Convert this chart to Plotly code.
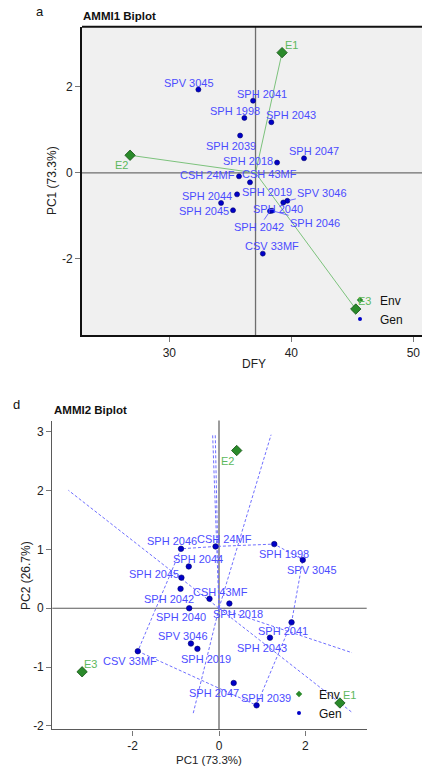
import numpy as np
import plotly.graph_objects as go

# ---------------- data ----------------
genotypes = ["SPV 3045", "SPH 2041", "SPH 1998", "SPH 2043", "SPH 2039", "SPH 2047",
             "SPH 2018", "CSH 24MF", "CSH 43MF", "SPH 2019", "SPH 2044", "SPH 2045",
             "SPV 3046", "SPH 2040", "SPH 2042", "SPH 2046", "CSV 33MF"]
gen_dfy = [32.38, 36.86, 36.15, 38.36, 35.80, 41.04, 38.83, 35.71, 36.61, 35.55,
           34.24, 35.22, 39.67, 39.34, 38.25, 38.42, 37.66]
gen_pc1 = [1.94, 1.68, 1.28, 1.18, 0.87, 0.34, 0.24, -0.08, -0.22, -0.50,
           -0.70, -0.87, -0.65, -0.69, -0.89, -0.88, -1.88]
gen_pc2 = [0.82, -0.24, 1.09, -0.50, -1.65, -1.27, 0.08, 1.05, 0.16, -0.69,
           0.71, 0.52, -0.60, 0.00, 0.33, 1.01, -0.73]

environments = ["E1", "E2", "E3"]
env_dfy = [39.24, 26.78, 45.28]
env_pc1 = [2.80, 0.41, -3.17]
env_pc2 = [-1.61, 2.68, -1.08]

pc1_var, pc2_var = 73.3, 26.7

top_xticks = [30, 40, 50]
top_yticks = [-2, 0, 2]
bot_xticks = [-2, 0, 2]
bot_yticks = [-2, -1, 0, 1, 2, 3]

# ---------------- style ----------------
W, H = 422, 769
FONT = "Liberation Sans, Arial, Helvetica, sans-serif"
GEN_PT = "#0000c8"
GEN_TXT = "#4c4cff"
ENV_PT = "#2a8a2a"
ENV_TXT = "#5cb85c"
ENV_LINE = "#7cc27c"
HULL = "#6f6fff"

def fx(px):
    return px / W

def fy(py):
    return 1 - py / H

def neg_labels(vals):
    return [str(v).replace("\u2212", "-") for v in vals]

# label offsets (screen px: dx right, dy down)
top_off = {
    "SPV 3045": (-9, -7), "SPH 2041": (9, -7), "SPH 1998": (-9, -7), "SPH 2043": (20, -7),
    "SPH 2039": (-9, 10), "SPH 2047": (10, -7), "SPH 2018": (-29, -2), "CSH 24MF": (-32, -1),
    "CSH 43MF": (20, -8), "SPH 2019": (30, -2), "SPH 2044": (-14, -7), "SPH 2045": (-29, 1),
    "SPH 2040": (-5, 6), "CSV 33MF": (9, -8),
    "SPV 3046": (35, -8), "SPH 2042": (-11, 16), "SPH 2046": (43, 12),
}
top_leader = {"SPV 3046", "SPH 2042", "SPH 2046"}
top_env_off = {"E1": (9, -8), "E2": (-9, 10), "E3": (9, -8)}

bot_off = {
    "SPH 2046": (-9, -8), "CSH 24MF": (9, -7), "SPH 1998": (10, 10), "SPV 3045": (9, 10),
    "SPH 2044": (9, -7), "SPH 2045": (-27, -4), "SPH 2042": (-12, 10), "CSH 43MF": (11, -7),
    "SPH 2018": (9, 10), "SPH 2040": (-8, 9), "SPH 2041": (-9, 9), "SPH 2043": (-8, 10),
    "SPV 3046": (-8, -8), "SPH 2019": (9, 10), "CSV 33MF": (-8, 10), "SPH 2047": (-20, 10),
    "SPH 2039": (9, -7),
}
bot_env_off = {"E1": (10, -8), "E2": (-9, 10), "E3": (8, -8)}

fig = go.Figure()

# ================= AMMI1: DFY vs PC1 =================
mean_dfy = float(np.mean(gen_dfy))

lx, ly = [], []
for xd, yd in zip(env_dfy, env_pc1):
    lx += [mean_dfy, xd, None]
    ly += [0, yd, None]
fig.add_trace(go.Scatter(x=lx, y=ly, mode="lines", line=dict(color=ENV_LINE, width=1),
                         hoverinfo="skip", showlegend=False, xaxis="x", yaxis="y"))
fig.add_trace(go.Scatter(x=gen_dfy, y=gen_pc1, mode="markers", text=genotypes,
                         marker=dict(size=5, color=GEN_PT, line=dict(color="#00006a", width=0.6)),
                         showlegend=False, xaxis="x", yaxis="y"))
fig.add_trace(go.Scatter(x=env_dfy, y=env_pc1, mode="markers", text=environments,
                         marker=dict(size=8, symbol="diamond", color=ENV_PT,
                                     line=dict(color="#145214", width=0.8)),
                         showlegend=False, xaxis="x", yaxis="y"))

# ================= AMMI2: PC1 vs PC2 =================
pts = np.column_stack([gen_pc1, gen_pc2])

def convex_hull(p):
    order = sorted(range(len(p)), key=lambda i: (p[i][0], p[i][1]))
    def cross(o, a, b):
        return (p[a][0]-p[o][0])*(p[b][1]-p[o][1]) - (p[a][1]-p[o][1])*(p[b][0]-p[o][0])
    lower, upper = [], []
    for i in order:
        while len(lower) >= 2 and cross(lower[-2], lower[-1], i) <= 0:
            lower.pop()
        lower.append(i)
    for i in reversed(order):
        while len(upper) >= 2 and cross(upper[-2], upper[-1], i) <= 0:
            upper.pop()
        upper.append(i)
    return lower[:-1] + upper[:-1]   # counter-clockwise

hull = convex_hull(pts)
hx = [pts[i][0] for i in hull] + [pts[hull[0]][0]]
hy = [pts[i][1] for i in hull] + [pts[hull[0]][1]]
fig.add_trace(go.Scatter(x=hx, y=hy, mode="lines",
                         line=dict(color=HULL, width=1, dash="3px,2px"),
                         hoverinfo="skip", showlegend=False, xaxis="x2", yaxis="y2"))

# rays from the origin perpendicular to each hull side, out to 1.1x the score range
all_x = np.array(gen_pc1 + env_pc1)
all_y = np.array(gen_pc2 + env_pc2)
bx0, bx1 = 1.1 * all_x.min(), 1.1 * all_x.max()
by0, by1 = 1.1 * all_y.min(), 1.1 * all_y.max()
rx, ry = [], []
for k in range(len(hull)):
    a = pts[hull[k]]
    b = pts[hull[(k + 1) % len(hull)]]
    d = b - a
    n = np.array([d[1], -d[0]])          # outward normal for ccw order
    ts = []
    for comp, lo, hi in ((n[0], bx0, bx1), (n[1], by0, by1)):
        if comp > 0:
            ts.append(hi / comp)
        elif comp < 0:
            ts.append(lo / comp)
    t = min(ts)
    rx += [0, n[0] * t, None]
    ry += [0, n[1] * t, None]
fig.add_trace(go.Scatter(x=rx, y=ry, mode="lines",
                         line=dict(color=HULL, width=1, dash="3px,2px"),
                         hoverinfo="skip", showlegend=False, xaxis="x2", yaxis="y2"))

fig.add_trace(go.Scatter(x=gen_pc1, y=gen_pc2, mode="markers", text=genotypes,
                         marker=dict(size=5.5, color=GEN_PT, line=dict(color="#00006a", width=0.6)),
                         showlegend=False, xaxis="x2", yaxis="y2"))
fig.add_trace(go.Scatter(x=env_pc1, y=env_pc2, mode="markers", text=environments,
                         marker=dict(size=8, symbol="diamond", color=ENV_PT,
                                     line=dict(color="#145214", width=0.8)),
                         showlegend=False, xaxis="x2", yaxis="y2"))

# legend entries
for leg in ("legend", "legend2"):
    fig.add_trace(go.Scatter(x=[None], y=[None], mode="markers", name="Env", legend=leg,
                             marker=dict(size=5, symbol="diamond", color=ENV_PT),
                             xaxis="x" if leg == "legend" else "x2",
                             yaxis="y" if leg == "legend" else "y2"))
    fig.add_trace(go.Scatter(x=[None], y=[None], mode="markers", name="Gen", legend=leg,
                             marker=dict(size=4, color=GEN_PT),
                             xaxis="x" if leg == "legend" else "x2",
                             yaxis="y" if leg == "legend" else "y2"))

# ---------------- labels ----------------
ann = []

def label(x, y, txt, off, color, xref, yref, leader=False):
    dx, dy = off
    if leader:
        ann.append(dict(x=x, y=y, xref=xref, yref=yref, text=txt, showarrow=True,
                        ax=dx, ay=dy, arrowhead=0, arrowwidth=0.8, arrowcolor=GEN_TXT,
                        standoff=2, font=dict(family=FONT, size=11, color=color)))
    else:
        ann.append(dict(x=x, y=y, xref=xref, yref=yref, text=txt, showarrow=False,
                        xshift=dx, yshift=-dy, font=dict(family=FONT, size=11, color=color)))

for g, xd, yd in zip(genotypes, gen_dfy, gen_pc1):
    label(xd, yd, g, top_off[g], GEN_TXT, "x", "y", g in top_leader)
for e, xd, yd in zip(environments, env_dfy, env_pc1):
    label(xd, yd, e, top_env_off[e], ENV_TXT, "x", "y")
for g, xd, yd in zip(genotypes, gen_pc1, gen_pc2):
    label(xd, yd, g, bot_off[g], GEN_TXT, "x2", "y2")
for e, xd, yd in zip(environments, env_pc1, env_pc2):
    label(xd, yd, e, bot_env_off[e], ENV_TXT, "x2", "y2")

def paper_text(px, py, txt, size, xanchor="center", angle=0, bold=False, color="#111"):
    ann.append(dict(x=fx(px), y=fy(py), xref="paper", yref="paper",
                    text=f"<b>{txt}</b>" if bold else txt, showarrow=False,
                    xanchor=xanchor, yanchor="middle", textangle=angle,
                    font=dict(family=FONT, size=size, color=color)))

paper_text(40, 12, "a", 13)
paper_text(81, 16.5, "AMMI1 Biplot", 11.5, xanchor="left", bold=True)
paper_text(254, 366, "DFY", 12, color="#222")
paper_text(52, 182, f"PC1 ({pc1_var}%)", 12, angle=-90, color="#222")

paper_text(16, 406.5, "d", 13)
paper_text(52, 412.5, "AMMI2 Biplot", 11.5, xanchor="left", bold=True)
paper_text(209, 763.5, f"PC1 ({pc1_var}%)", 11.5, color="#222")
paper_text(26, 579, f"PC2 ({pc2_var}%)", 12, angle=-90, color="#222")

# ---------------- shapes ----------------
shapes = [
    dict(type="rect", xref="x domain", yref="y domain", x0=0, x1=1, y0=0, y1=1,
         fillcolor="#f0f0f0", line=dict(width=0), layer="below"),
    dict(type="line", xref="x", yref="y domain", x0=mean_dfy, x1=mean_dfy, y0=0, y1=1,
         line=dict(color="#6e6e6e", width=1.3), layer="below"),
    dict(type="line", xref="x domain", yref="y", x0=0, x1=1, y0=0, y1=0,
         line=dict(color="#6e6e6e", width=1.3), layer="below"),
    dict(type="line", xref="x domain", yref="y domain", x0=0, x1=1, y0=1, y1=1,
         line=dict(color="#111", width=2)),
    dict(type="line", xref="x2", yref="y2 domain", x0=0, x1=0, y0=0, y1=1,
         line=dict(color="#5a5a5a", width=1.2), layer="below"),
    dict(type="line", xref="x2 domain", yref="y2", x0=0, x1=1, y0=0, y1=0,
         line=dict(color="#5a5a5a", width=1.2), layer="below"),
]

tickfont = dict(family=FONT, size=12, color="#222")
axis_common = dict(showgrid=False, zeroline=False, ticks="outside", ticklen=5,
                   tickwidth=1, tickfont=tickfont, fixedrange=True)

fig.update_layout(
    width=W, height=H,
    margin=dict(l=0, r=0, t=0, b=0),
    paper_bgcolor="white", plot_bgcolor="white",
    font=dict(family=FONT),
    xaxis=dict(domain=[fx(82), 1.0], range=[22.84, 50.71], anchor="y",
               tickvals=top_xticks, ticktext=neg_labels(top_xticks),
               showline=True, linecolor="#111", linewidth=2, tickcolor="#777", **axis_common),
    yaxis=dict(domain=[fy(337), fy(27)], range=[-3.78, 3.40], anchor="x",
               tickvals=top_yticks, ticktext=neg_labels(top_yticks),
               showline=True, linecolor="#111", linewidth=2, tickcolor="#777", **axis_common),
    xaxis2=dict(domain=[fx(52.3), fx(366.7)], range=[-3.86, 3.42], anchor="y2",
                tickvals=bot_xticks, ticktext=neg_labels(bot_xticks),
                showline=True, linecolor="#5a5a5a", linewidth=1.2, tickcolor="#777", **axis_common),
    yaxis2=dict(domain=[fy(733.3), fy(422.7)], range=[-2.06, 3.19], anchor="x2",
                tickvals=bot_yticks, ticktext=neg_labels(bot_yticks),
                showline=True, linecolor="#5a5a5a", linewidth=1.2, tickcolor="#777", **axis_common),
    legend=dict(x=fx(340), y=fy(287), xanchor="left", yanchor="top",
                bgcolor="rgba(0,0,0,0)", font=dict(family=FONT, size=12, color="#111"),
                itemwidth=30, tracegroupgap=0),
    legend2=dict(x=fx(279), y=fy(683), xanchor="left", yanchor="top",
                 bgcolor="rgba(0,0,0,0)", font=dict(family=FONT, size=12, color="#111"),
                 itemwidth=30, tracegroupgap=0),
    annotations=ann,
    shapes=shapes,
)

fig.write_html("out.html")
